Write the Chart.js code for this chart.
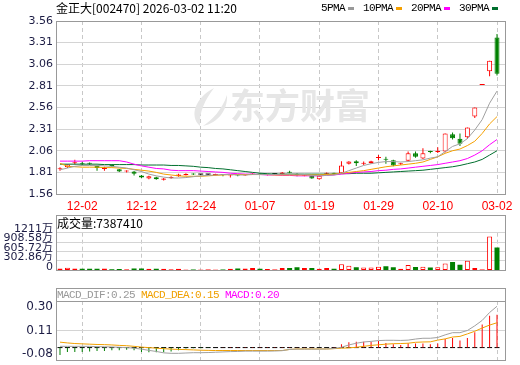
<!DOCTYPE html>
<html>
<head>
<meta charset="utf-8">
<title>金正大 K线</title>
<script src="https://cdn.jsdelivr.net/npm/chart.js@4.4.1/dist/chart.umd.min.js"></script>
<style>
  body { margin: 0; background: #fff; }
  #wrap { position: relative; width: 520px; height: 365px; overflow: hidden; }
  canvas { position: absolute; left: 0; }
</style>
</head>
<body>
<div id="wrap">
  <canvas id="kChart" width="520" height="215" style="top:0"></canvas>
  <canvas id="volChart" width="520" height="65" style="top:215px"></canvas>
  <canvas id="macdChart" width="520" height="77" style="top:288px"></canvas>
</div>
<script>
// ---- data ----
const dates = ['11-27','11-28','12-01','12-02','12-03','12-04','12-05','12-08','12-09','12-10',
  '12-11','12-12','12-15','12-16','12-17','12-18','12-19','12-22','12-23','12-24',
  '12-25','12-26','12-29','12-30','12-31','01-05','01-06','01-07','01-08','01-09',
  '01-12','01-13','01-14','01-15','01-16','01-19','01-20','01-21','01-22','01-23',
  '01-26','01-27','01-28','01-29','01-30','02-02','02-03','02-04','02-05','02-06',
  '02-09','02-10','02-11','02-12','02-13','02-24','02-25','02-26','02-27','03-02'];
const tickDates = ['12-02','12-12','12-24','01-07','01-19','01-29','02-10','03-02'];

const open  = [1.845,1.87,1.915,1.91,1.915,1.89,1.85,1.89,1.845,1.82,
  1.82,1.775,1.74,1.755,1.725,1.745,1.765,1.78,1.79,1.785,
  1.785,1.78,1.785,1.775,1.78,1.775,1.785,1.795,1.78,1.79,
  1.79,1.815,1.785,1.77,1.77,1.73,1.795,1.80,1.80,1.91,
  1.94,1.91,1.915,1.975,1.96,1.95,1.905,1.945,2.03,1.97,
  2.05,2.045,2.05,2.25,2.20,2.215,2.455,2.82,2.98,3.37];
const high  = [1.87,1.90,1.955,1.93,1.925,1.895,1.875,1.905,1.85,1.835,
  1.825,1.78,1.77,1.76,1.745,1.765,1.795,1.80,1.80,1.79,
  1.79,1.795,1.79,1.785,1.785,1.785,1.80,1.80,1.795,1.795,
  1.815,1.83,1.80,1.78,1.775,1.775,1.81,1.805,1.94,1.94,
  1.95,1.935,1.945,2.01,1.99,1.955,1.92,2.05,2.05,2.09,
  2.06,2.10,2.26,2.27,2.26,2.33,2.56,2.82,3.10,3.41];
const low   = [1.83,1.86,1.90,1.89,1.895,1.83,1.83,1.875,1.815,1.81,
  1.775,1.745,1.73,1.725,1.715,1.735,1.76,1.775,1.78,1.78,
  1.78,1.775,1.765,1.75,1.765,1.77,1.78,1.78,1.775,1.78,
  1.785,1.80,1.765,1.765,1.735,1.725,1.79,1.785,1.795,1.90,
  1.885,1.895,1.91,1.95,1.91,1.88,1.895,1.935,1.98,1.965,
  2.03,2.035,2.04,2.19,2.115,2.20,2.44,2.82,2.92,2.93];
const close = [1.85,1.90,1.92,1.905,1.91,1.86,1.855,1.885,1.82,1.825,
  1.795,1.75,1.765,1.73,1.74,1.75,1.785,1.79,1.785,1.785,
  1.785,1.79,1.78,1.78,1.775,1.78,1.79,1.785,1.79,1.79,
  1.81,1.805,1.78,1.775,1.74,1.77,1.80,1.795,1.89,1.935,
  1.915,1.915,1.94,1.98,1.955,1.89,1.91,2.03,1.99,2.03,
  2.045,2.05,2.26,2.205,2.14,2.33,2.56,2.82,3.10,2.95];

const ma5  = [1.84,1.86,1.88,1.89,1.89,1.89,1.885,1.88,1.87,1.86,
  1.84,1.82,1.79,1.77,1.755,1.745,1.745,1.75,1.76,1.77,
  1.775,1.78,1.785,1.785,1.78,1.78,1.785,1.785,1.785,1.785,
  1.79,1.79,1.79,1.785,1.775,1.77,1.775,1.78,1.80,1.83,
  1.86,1.89,1.91,1.925,1.935,1.935,1.93,1.935,1.945,1.955,
  1.975,1.99,2.05,2.11,2.14,2.20,2.30,2.42,2.61,2.75];
const ma10 = [1.915,1.88,1.875,1.87,1.87,1.87,1.865,1.865,1.86,1.855,
  1.845,1.835,1.825,1.81,1.79,1.78,1.77,1.765,1.765,1.765,
  1.77,1.775,1.78,1.785,1.785,1.785,1.785,1.785,1.785,1.78,
  1.78,1.78,1.78,1.78,1.78,1.78,1.785,1.79,1.80,1.81,
  1.82,1.83,1.845,1.86,1.875,1.885,1.895,1.905,1.915,1.93,
  1.96,1.99,2.03,2.06,2.08,2.12,2.17,2.26,2.37,2.455];
const ma20 = [1.94,1.94,1.94,1.94,1.945,1.945,1.945,1.945,1.945,1.93,
  1.905,1.885,1.87,1.855,1.85,1.835,1.83,1.83,1.83,1.825,
  1.82,1.815,1.81,1.80,1.795,1.79,1.79,1.785,1.78,1.78,
  1.775,1.775,1.77,1.77,1.77,1.77,1.775,1.78,1.79,1.80,
  1.81,1.815,1.82,1.83,1.835,1.845,1.85,1.86,1.87,1.88,
  1.89,1.90,1.915,1.93,1.945,1.97,2.01,2.06,2.13,2.19];
const ma30 = [1.905,1.905,1.905,1.905,1.905,1.905,1.90,1.90,1.90,1.90,
  1.90,1.895,1.895,1.895,1.895,1.89,1.89,1.885,1.88,1.87,
  1.865,1.855,1.85,1.84,1.83,1.82,1.81,1.80,1.795,1.79,
  1.79,1.79,1.79,1.79,1.79,1.79,1.79,1.79,1.795,1.795,
  1.80,1.80,1.80,1.805,1.81,1.815,1.82,1.825,1.83,1.835,
  1.845,1.855,1.865,1.875,1.89,1.91,1.93,1.96,2.01,2.06];

// volume in 万 shares
const volume = [60,86,60,52,52,52,60,35,43,35,
  60,60,52,52,52,35,52,26,26,17,
  26,26,26,52,60,60,78,52,43,26,
  78,78,104,78,78,52,78,52,199,147,
  104,95,95,121,130,104,52,173,112,121,
  95,104,225,268,182,311,78,26,1090,739];
const volTicks = [0, 302.86, 605.72, 908.58, 1211];

const dif = [0.008,0.008,0.008,0.008,0.008,0.006,0.005,0.004,0.002,0.000,
  -0.004,-0.010,-0.018,-0.025,-0.034,-0.037,-0.037,-0.035,-0.033,-0.033,
  -0.032,-0.030,-0.028,-0.026,-0.025,-0.023,-0.023,-0.023,-0.023,-0.022,
  -0.020,-0.012,-0.010,-0.010,-0.010,-0.010,-0.009,-0.006,0.002,0.017,
  0.028,0.036,0.040,0.045,0.047,0.047,0.046,0.048,0.055,0.060,
  0.060,0.065,0.082,0.096,0.096,0.110,0.140,0.175,0.226,0.266];
const dea = [0.035,0.030,0.026,0.024,0.022,0.020,0.019,0.017,0.014,0.012,
  0.008,0.003,0.000,-0.004,-0.007,-0.010,-0.012,-0.013,-0.015,-0.017,
  -0.018,-0.019,-0.019,-0.019,-0.019,-0.019,-0.019,-0.019,-0.019,-0.019,
  -0.019,-0.012,-0.009,-0.009,-0.009,-0.009,-0.009,-0.007,-0.004,-0.002,
  0.002,0.008,0.014,0.018,0.022,0.025,0.026,0.028,0.034,0.036,
  0.037,0.048,0.056,0.068,0.072,0.088,0.105,0.126,0.145,0.160];
const macd = [-0.048,-0.028,-0.028,-0.028,-0.026,-0.022,-0.022,-0.018,-0.018,-0.014,
  -0.018,-0.028,-0.030,-0.030,-0.030,-0.026,-0.018,-0.006,-0.004,-0.004,
  -0.002,0,0.002,0.004,0.004,0.004,0.004,0.004,0.004,0.004,
  0.004,0.004,0.002,0.002,0.002,0,0,0.004,0.022,0.034,
  0.038,0.038,0.038,0.042,0.030,0.022,0.016,0.028,0.026,0.026,
  0.022,0.026,0.056,0.062,0.046,0.062,0.098,0.148,0.205,0.211];
const macdTicks = [-0.08, 0.11, 0.30];
const priceTicks = [1.56, 1.81, 2.06, 2.31, 2.56, 2.81, 3.06, 3.31, 3.56];

// ---- styling ----
const RED = '#ff0000', GREEN = '#008000', FLAT = '#000000';
const FRAME = '#999999', GRID = '#d4d4d4', VGRID = '#c8c8c8', AXIS_TXT = '#1c1c44';
const CJK = '"Noto Sans CJK SC", sans-serif';

const idx = dates.map((d, i) => i);
const xTicks = tickDates.map(d => dates.indexOf(d));

function candleColor(i) {
  if (close[i] > open[i]) return RED;
  if (close[i] < open[i]) return GREEN;
  if (i > 0 && close[i] > close[i - 1]) return RED;
  if (i > 0 && close[i] < close[i - 1]) return GREEN;
  return FLAT;
}
const colors = idx.map(candleColor);
const hollow = idx.map(i => close[i] > open[i]);

function xScale(showLabels) {
  return {
    type: 'linear', min: -0.54, max: 60.08, offset: false,
    afterBuildTicks: s => { s.ticks = xTicks.map(v => ({ value: v })); },
    afterFit: s => { s.height = showLabels ? 21 : 0; },
    grid: { color: VGRID, drawTicks: false, offset: false },
    border: { display: false, dash: [4, 3] },
    ticks: {
      display: showLabels, autoSkip: false, maxRotation: 0, padding: 5,
      color: RED, font: { family: 'Liberation Sans', size: 12 },
      callback: v => dates[v]
    }
  };
}

function framePlugin(fromTop, split) {
  return {
    id: 'frame',
    afterDraw(chart) {
      const { ctx, chartArea: a } = chart;
      const l = Math.floor(a.left) + 0.5, r = Math.floor(a.right) + 0.5;
      const t = fromTop ? 0.5 : Math.floor(a.top) + 0.5, b = Math.floor(a.bottom) + 0.5;
      ctx.save();
      ctx.strokeStyle = FRAME;
      ctx.lineWidth = 1;
      ctx.strokeRect(l, t, r - l, b - t);
      if (split) {
        ctx.beginPath();
        ctx.moveTo(l, Math.floor(a.top) + 0.5);
        ctx.lineTo(r, Math.floor(a.top) + 0.5);
        ctx.stroke();
      }
      ctx.restore();
    }
  };
}

const baseOptions = {
  responsive: false, animation: false, events: [],
  plugins: { legend: { display: false }, tooltip: { enabled: false } }
};

// ---- price chart ----
const watermark = {
  id: 'watermark',
  beforeDatasetsDraw(chart) {
    const ctx = chart.ctx;
    ctx.save();
    ctx.fillStyle = '#e6e6e6';
    ctx.beginPath();
    ctx.moveTo(214, 88);
    ctx.bezierCurveTo(195, 98, 189, 116, 200, 126);
    ctx.bezierCurveTo(199, 112, 205, 100, 214, 88);
    ctx.fill();
    ctx.beginPath();
    ctx.moveTo(227, 95);
    ctx.bezierCurveTo(222, 110, 212, 120, 203, 126);
    ctx.bezierCurveTo(218, 123, 228, 110, 227, 95);
    ctx.fill();
    ctx.font = 'bold 35px ' + CJK;
    ctx.textBaseline = 'middle';
    ctx.fillText('东方财富', 230, 106);
    ctx.restore();
  }
};

const headerText = {
  id: 'headerText',
  afterDraw(chart) {
    const ctx = chart.ctx;
    ctx.save();
    ctx.textBaseline = 'middle';
    ctx.fillStyle = '#000';
    ctx.font = '12px ' + CJK;
    ctx.fillText('金正大[002470] 2026-03-02 11:20', 56, 8);
    // MA legend
    const items = [['5PMA', '#999999'], ['10PMA', '#f5a000'], ['20PMA', '#ff00ff'], ['30PMA', '#006f2e']];
    ctx.font = '11px "Liberation Mono", monospace';
    ctx.letterSpacing = '-0.6px';
    let x = 321;
    items.forEach(([label, c]) => {
      ctx.fillStyle = '#000';
      ctx.fillText(label, x, 8);
      x += label.length * 6 + 3;
      ctx.fillStyle = c;
      ctx.fillRect(x, 7, 6, 3);
      x += 15;
    });
    ctx.restore();
  }
};

function maLine(values, color) {
  return {
    type: 'line', data: idx.map(i => ({ x: i, y: values[i] })),
    borderColor: color, borderWidth: 1, pointRadius: 0, tension: 0, order: 0
  };
}

new Chart(document.getElementById('kChart'), {
  type: 'bar',
  data: {
    datasets: [
      { // wicks
        type: 'bar', data: idx.map(i => ({ x: i, y: [low[i], high[i]] })),
        backgroundColor: colors, barThickness: 1, grouped: false, inflateAmount: 0, order: 2
      },
      { // bodies
        type: 'bar', data: idx.map(i => ({ x: i, y: [open[i], close[i]] })),
        backgroundColor: idx.map(i => hollow[i] ? '#ffffff' : colors[i]),
        borderColor: colors,
        borderWidth: idx.map(i => open[i] === close[i] ? 0 : 1),
        borderSkipped: false, barThickness: 5, minBarLength: 1,
        grouped: false, inflateAmount: 0, order: 1
      },
      maLine(ma5, '#a0a0a0'),
      maLine(ma10, '#f5a000'),
      maLine(ma20, '#ff00ff'),
      maLine(ma30, '#006f2e')
    ]
  },
  options: {
    ...baseOptions,
    layout: { padding: { left: 0, right: 15, top: 21, bottom: 0 } },
    scales: {
      x: xScale(true),
      y: {
        type: 'linear', min: 1.56, max: 3.56, position: 'left',
        afterBuildTicks: s => { s.ticks = priceTicks.map(v => ({ value: v })); },
        afterFit: s => { s.width = 56; },
        grid: { color: GRID, drawTicks: false },
        border: { display: false },
        ticks: {
          color: AXIS_TXT, padding: 3, autoSkip: false,
          font: { family: 'DejaVu Sans', size: 11 },
          callback: v => v.toFixed(2)
        }
      }
    }
  },
  plugins: [watermark, framePlugin(false, false), headerText]
});

// ---- volume chart ----
const volTitle = {
  id: 'volTitle',
  afterDraw(chart) {
    const ctx = chart.ctx;
    ctx.save();
    ctx.textBaseline = 'middle';
    ctx.fillStyle = '#000';
    ctx.font = '12px ' + CJK;
    ctx.fillText('成交量:7387410', 57, 8);
    ctx.restore();
  }
};

new Chart(document.getElementById('volChart'), {
  type: 'bar',
  data: {
    datasets: [{
      data: idx.map(i => ({ x: i, y: volume[i] })),
      backgroundColor: idx.map(i => hollow[i] ? '#ffffff' : (colors[i] === GREEN ? GREEN : RED)),
      borderColor: idx.map(i => colors[i] === GREEN ? GREEN : RED),
      borderWidth: idx.map(i => hollow[i] ? 1 : 0),
      borderSkipped: false, barThickness: 5, grouped: false, inflateAmount: 0
    }]
  },
  options: {
    ...baseOptions,
    layout: { padding: { left: 0, right: 15, top: 17.7, bottom: 0.6 } },
    scales: {
      x: xScale(false),
      y: {
        type: 'linear', min: 0, max: 1211, position: 'left',
        afterBuildTicks: s => { s.ticks = volTicks.map(v => ({ value: v })); },
        afterFit: s => { s.width = 56; },
        grid: { color: GRID, drawTicks: false },
        border: { display: false },
        ticks: {
          color: AXIS_TXT, padding: 3, labelOffset: -3.5, autoSkip: false,
          font: { family: '"DejaVu Sans", "Noto Sans CJK SC"', size: 11 },
          callback: v => v === 0 ? '0' : v + '万'
        }
      }
    }
  },
  plugins: [framePlugin(true, false), volTitle]
});

// ---- MACD chart ----
const macdText = {
  id: 'macdText',
  afterDraw(chart) {
    const { ctx, chartArea: a } = chart;
    const ys = chart.scales.y;
    ctx.save();
    ctx.textBaseline = 'middle';
    ctx.textAlign = 'right';
    ctx.fillStyle = AXIS_TXT;
    ctx.font = '12px "DejaVu Sans"';
    macdTicks.forEach(v => {
      const y = Math.min(Math.max(ys.getPixelForValue(v), a.top + 6), a.bottom - 6);
      ctx.fillText(v.toFixed(2), a.left - 3, y);
    });
    ctx.textAlign = 'left';
    ctx.font = '11px "Liberation Mono", monospace';
    ctx.letterSpacing = '-0.6px';
    let x = 57;
    [['MACD_DIF:0.25', '#999999'], ['MACD_DEA:0.15', '#f0a000'], ['MACD:0.20', '#ff00ff']].forEach(([t, c]) => {
      ctx.fillStyle = c;
      ctx.fillText(t, x, 7);
      x += t.length * 6 + 6;
    });
    ctx.restore();
  }
};

new Chart(document.getElementById('macdChart'), {
  type: 'bar',
  data: {
    datasets: [
      {
        type: 'scatter', data: idx.map(i => ({ x: i, y: 0 })),
        pointStyle: 'line', pointRadius: 2.5, borderColor: '#000', borderWidth: 1, order: 3
      },
      {
        type: 'bar', data: idx.map(i => ({ x: i, y: macd[i] })),
        backgroundColor: idx.map(i => macd[i] >= 0 ? RED : GREEN),
        barThickness: 1, grouped: false, inflateAmount: 0, order: 2
      },
      {
        type: 'line', data: idx.map(i => ({ x: i, y: dif[i] })),
        borderColor: '#a0a0a0', borderWidth: 1, pointRadius: 0, order: 0
      },
      {
        type: 'line', data: idx.map(i => ({ x: i, y: dea[i] })),
        borderColor: '#f0a000', borderWidth: 1, pointRadius: 0, order: 0
      }
    ]
  },
  options: {
    ...baseOptions,
    layout: { padding: { left: 0, right: 15, top: 13, bottom: 0.5 } },
    scales: {
      x: xScale(false),
      y: {
        type: 'linear', min: -0.08, max: 0.30, position: 'left',
        afterBuildTicks: s => { s.ticks = macdTicks.map(v => ({ value: v })); },
        afterFit: s => { s.width = 56; },
        grid: { color: GRID, drawTicks: false },
        border: { display: false },
        ticks: { display: false }
      }
    }
  },
  plugins: [framePlugin(true, true), macdText]
});
</script>
</body>
</html>
